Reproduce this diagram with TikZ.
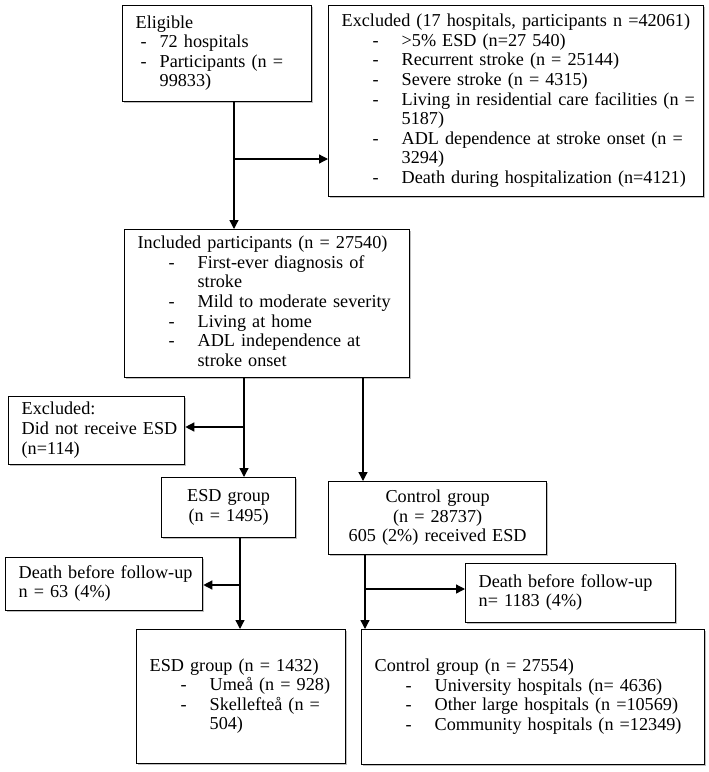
\documentclass[tikz,border=0pt]{standalone}
\usepackage{fontspec}
\setmainfont{Liberation Serif}
\usetikzlibrary{arrows.meta,shadows}
\tikzset{
  box/.style={draw, fill=white, line width=1.3pt, anchor=north west, inner xsep=13pt, inner ysep=0pt,
    align=left, font=\fontsize{18.2}{19.6}\selectfont,
    drop shadow={shadow xshift=1.5pt, shadow yshift=-1.5pt, opacity=0.25, fill=black}},
  cbox/.style={box, align=center},
  arr/.style={line width=1.3pt, -{Triangle[length=9pt,width=9pt]}},
  ln/.style={line width=1.3pt}
}
\newcommand\dl[1]{\hspace*{31pt}\makebox[29pt][l]{-}#1}
\newcommand\cl[1]{\hspace*{60pt}#1}
\begin{document}
\begin{tikzpicture}[x=1pt,y=-1pt]
\useasboundingbox (0,0) rectangle (709,772);

\node[box, text width=163pt, minimum height=96pt] (elig) at (122,5) {%
\begin{tabular}{@{}l@{}}Eligible\\
\hspace*{5pt}\makebox[19pt][l]{-}72 hospitals\\
\hspace*{5pt}\makebox[19pt][l]{-}Participants (n =\\
\hspace*{24pt}99833)\end{tabular}};

\node[box, text width=349pt, minimum height=191pt] (excl) at (328,5) {%
\begin{tabular}{@{}l@{}}Excluded (17 hospitals, participants n =42061)\\
\dl{>5\% ESD (n=27 540)}\\
\dl{Recurrent stroke (n = 25144)}\\
\dl{Severe stroke (n = 4315)}\\
\dl{Living in residential care facilities (n =}\\
\cl{5187)}\\
\dl{ADL dependence at stroke onset (n =}\\
\cl{3294)}\\
\dl{Death during hospitalization (n=4121)}\end{tabular}};

\node[box, text width=259pt, minimum height=148pt] (incl) at (124,229) {%
\begin{tabular}{@{}l@{}}Included participants (n = 27540)\\
\dl{First-ever diagnosis of}\\
\cl{stroke}\\
\dl{Mild to moderate severity}\\
\dl{Living at home}\\
\dl{ADL independence at}\\
\cl{stroke onset}\end{tabular}};

\node[box, text width=150pt, minimum height=68pt] (exc2) at (8,396) {%
\begin{tabular}{@{}l@{}}Excluded:\\ Did not receive ESD\\ (n=114)\end{tabular}};

\node[cbox, text width=108pt, minimum height=60pt] (esdg) at (161,477) {%
\begin{tabular}{@{}c@{}}ESD group\\ (n = 1495)\end{tabular}};

\node[cbox, text width=192pt, minimum height=73pt] (ctrl) at (328,481) {%
\begin{tabular}{@{}c@{}}Control group\\ (n = 28737)\\ 605 (2\%) received ESD\end{tabular}};

\node[box, text width=171pt, minimum height=53pt] (death1) at (5,557) {%
\begin{tabular}{@{}l@{}}Death before follow-up\\ n = 63 (4\%)\end{tabular}};

\node[box, text width=184pt, minimum height=59pt] (death2) at (465,563) {%
\begin{tabular}{@{}l@{}}Death before follow-up\\ n= 1183 (4\%)\end{tabular}};

\node[box, text width=183pt, minimum height=134pt] (esd2) at (136,629) {%
\begin{tabular}{@{}l@{}}ESD group (n = 1432)\\
\dl{Umeå (n = 928)}\\
\dl{Skellefteå (n =}\\
\cl{504)}\end{tabular}};

\node[box, text width=317pt, minimum height=135pt] (ctrl2) at (361,629) {%
\begin{tabular}{@{}l@{}}Control group (n = 27554)\\
\dl{University hospitals (n= 4636)}\\
\dl{Other large hospitals (n =10569)}\\
\dl{Community hospitals (n =12349)}\end{tabular}};

\coordinate (c1) at (234,159);
\coordinate (c2) at (244,427);
\coordinate (c3) at (363,400);
\coordinate (c4) at (240,585);
\coordinate (c5) at (365,589);

\draw[ln] (elig.south -| c1) -- (c1);
\draw[arr] (c1) -- (incl.north -| c1);
\draw[arr] (c1) -- (excl.west |- c1);
\draw[arr] (incl.south -| c2) -- (esdg.north -| c2);
\draw[arr] (c2) -- (exc2.east |- c2);
\draw[arr] (incl.south -| c3) -- (ctrl.north -| c3);
\draw[arr] (esdg.south -| c4) -- (esd2.north -| c4);
\draw[arr] (c4) -- (death1.east |- c4);
\draw[arr] (ctrl.south -| c5) -- (ctrl2.north -| c5);
\draw[arr] (c5) -- (death2.west |- c5);
\end{tikzpicture}
\end{document}
